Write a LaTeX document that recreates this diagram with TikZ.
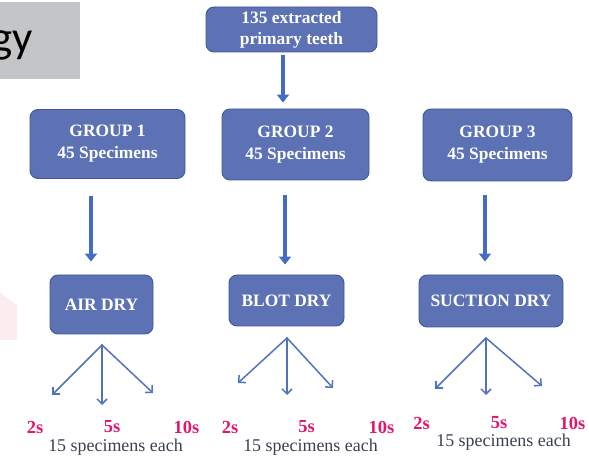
\documentclass[tikz,border=0pt]{standalone}
\usepackage{fontspec}
\setmainfont{Liberation Serif}
\newfontfamily\calibri{Carlito}
\usetikzlibrary{arrows.meta}
\definecolor{boxblue}{RGB}{92,114,181}
\definecolor{boxedge}{RGB}{66,88,150}
\definecolor{arrowblue}{RGB}{68,108,192}
\definecolor{fanblue}{RGB}{82,114,192}
\definecolor{timepink}{RGB}{225,22,108}
\definecolor{notegray}{RGB}{58,64,80}
\definecolor{bannergray}{RGB}{196,197,199}
\definecolor{faintpink}{RGB}{250,236,239}
\begin{document}
\begin{tikzpicture}[line join=bevel,
  box/.style={draw=boxedge,fill=boxblue,rounded corners=8bp,line width=0.9bp,text=white,
    font=\bfseries\fontsize{17.5}{22}\selectfont,align=center,inner sep=0pt},
  blockarrow/.style={draw=arrowblue,line width=4.5bp,-{Triangle[length=8bp,width=12bp]}},
  fanarrow/.style={draw=fanblue,line width=1.5bp,line cap=round,-{Straight Barb[length=5bp,width=10bp]}},
  timelabel/.style={draw=none,text=timepink,font=\bfseries\fontsize{18.5}{20}\selectfont},
  notelabel/.style={draw=none,text=notegray,font=\fontsize{18}{20}\selectfont},
]
\useasboundingbox (0bp,0bp) rectangle (589bp,456bp);
%%
\fill [bannergray] (0bp,377bp) rectangle (80bp,454bp);
\node (node_banner) at (33bp,403bp) [anchor=base east,inner sep=0pt,draw=none] {\calibri\fontsize{45}{45}\selectfont gy};
\fill [faintpink] (0bp,163bp) -- (17bp,151bp) -- (17bp,116bp) -- (0bp,116bp) -- cycle;
%
\node (node_teeth) at (291.5bp,426.5bp) [box,minimum width=171bp,minimum height=45bp,font=\bfseries\fontsize{17.5}{21}\selectfont] {135 extracted\\primary teeth};
  \node (node_group1) at (107.5bp,312bp) [box,minimum width=155bp,minimum height=69bp] {GROUP 1\\45 Specimens};
  \node (node_group2) at (295.5bp,311.5bp) [box,minimum width=147bp,minimum height=71bp] {GROUP 2\\45 Specimens};
  \node (node_group3) at (497.5bp,311bp) [box,minimum width=149bp,minimum height=72bp] {GROUP 3\\45 Specimens};
  \node (node_air) at (101.5bp,151.5bp) [box,minimum width=103bp,minimum height=59bp] {AIR DRY};
  \node (node_blot) at (286.5bp,155.5bp) [box,minimum width=115bp,minimum height=51bp] {BLOT DRY};
  \node (node_suction) at (491bp,155bp) [box,minimum width=144bp,minimum height=52bp] {SUCTION DRY};
%
\draw [blockarrow,shorten <=3bp,shorten >=6bp] ([xshift=-8.5bp]node_teeth.south) -- ([xshift=-8.5bp]node_teeth.south |- node_group2.north);
  \draw [blockarrow,shorten <=17bp,shorten >=13bp] ([xshift=-16.5bp]node_group1.south) -- ([xshift=-16.5bp]node_group1.south |- node_air.north);
  \draw [blockarrow,shorten <=15bp,shorten >=10bp] ([xshift=-10.5bp]node_group2.south) -- ([xshift=-10.5bp]node_group2.south |- node_blot.north);
  \draw [blockarrow,shorten <=14bp,shorten >=13bp] ([xshift=-12.5bp]node_group3.south) -- ([xshift=-12.5bp]node_group3.south |- node_suction.north);
%
\coordinate (fork_air) at (102bp,111bp);
  \coordinate (tip_air_2) at (52bp,61bp);
  \coordinate (tip_air_5) at (102bp,51bp);
  \coordinate (tip_air_10) at (153bp,63bp);
  \coordinate (fork_blot) at (287bp,118bp);
  \coordinate (tip_blot_2) at (238bp,73bp);
  \coordinate (tip_blot_5) at (287bp,61bp);
  \coordinate (tip_blot_10) at (333bp,68bp);
  \coordinate (fork_suction) at (486bp,118bp);
  \coordinate (tip_suction_2) at (435bp,67bp);
  \coordinate (tip_suction_5) at (486bp,61bp);
  \coordinate (tip_suction_10) at (542bp,70bp);
  \draw [fanarrow] (fork_air) -- (tip_air_2);
  \draw [fanarrow] (fork_air) -- (tip_air_5);
  \draw [fanarrow] (fork_air) -- (tip_air_10);
  \draw [fanarrow] (fork_blot) -- (tip_blot_2);
  \draw [fanarrow] (fork_blot) -- (tip_blot_5);
  \draw [fanarrow] (fork_blot) -- (tip_blot_10);
  \draw [fanarrow] (fork_suction) -- (tip_suction_2);
  \draw [fanarrow] (fork_suction) -- (tip_suction_5);
  \draw [fanarrow] (fork_suction) -- (tip_suction_10);
%
\node (time_air_2) at (35bp,29bp) [timelabel] {2s};
  \node (time_air_5) at (112bp,29bp) [timelabel] {5s};
  \node (time_air_10) at (186.5bp,29bp) [timelabel] {10s};
  \node (note_air) at (115.5bp,9bp) [notelabel] {15 specimens each};
  \node (time_blot_2) at (230bp,29bp) [timelabel] {2s};
  \node (time_blot_5) at (306.5bp,29bp) [timelabel] {5s};
  \node (time_blot_10) at (381.5bp,29bp) [timelabel] {10s};
  \node (note_blot) at (310.5bp,9bp) [notelabel] {15 specimens each};
  \node (time_suction_2) at (421.5bp,33bp) [timelabel] {2s};
  \node (time_suction_5) at (499bp,33bp) [timelabel] {5s};
  \node (time_suction_10) at (572.5bp,33bp) [timelabel] {10s};
  \node (note_suction) at (503.5bp,14bp) [notelabel] {15 specimens each};
%
\end{tikzpicture}
\end{document}
